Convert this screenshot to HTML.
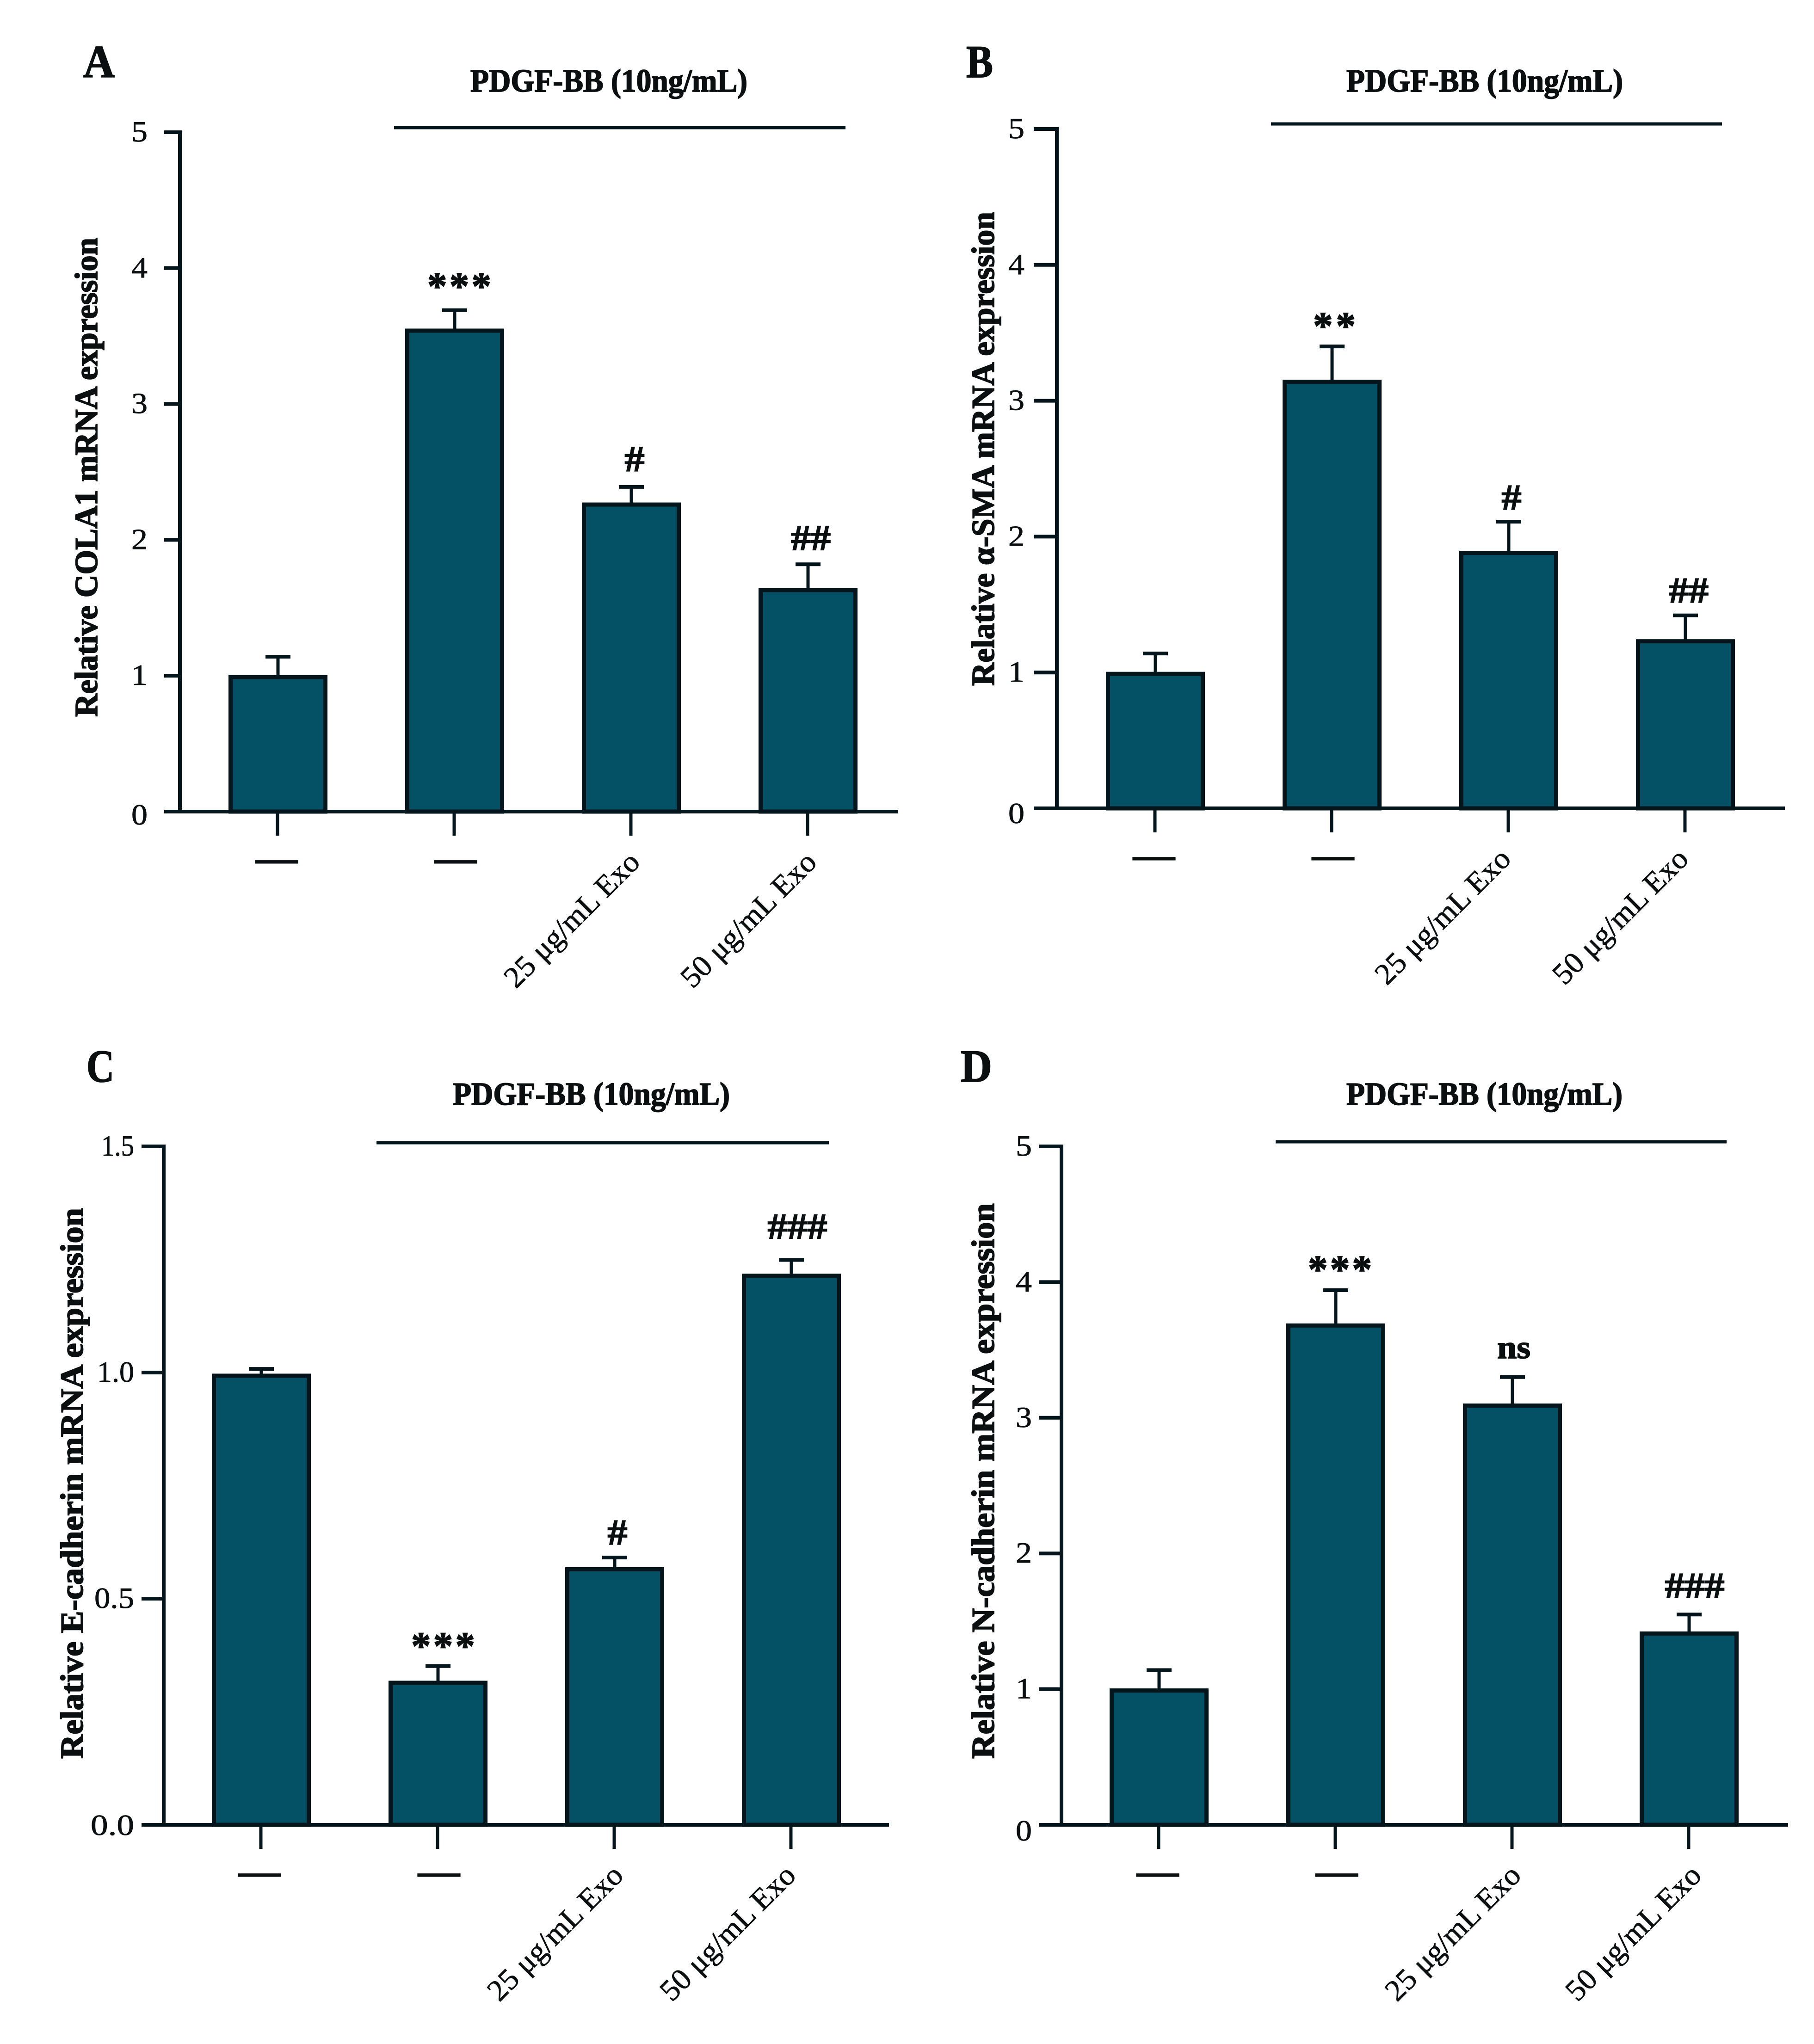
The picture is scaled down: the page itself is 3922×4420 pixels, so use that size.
<!DOCTYPE html>
<html lang="en">
<head>
<meta charset="utf-8">
<title>Relative mRNA expression panels</title>
<style>
html,body{margin:0;padding:0;background:#fff;}
svg{display:block;}
text{font-family:"Liberation Serif","DejaVu Serif",serif;fill:#0b0f10;stroke:#0b0f10;stroke-width:0.8px;}
text.heavy{stroke-width:1.8px;}
text.dash{stroke-width:1px;}
</style>
</head>
<body>
<svg id="figure" xmlns="http://www.w3.org/2000/svg" width="3922" height="4420" viewBox="0 0 3922 4420"></svg>
<script>
const categories = ['—', '—', '25 μg/mL Exo', '50 μg/mL Exo'];
const treatmentLabel = 'PDGF-BB (10ng/mL)';

const colaValues = [1, 3.55, 2.27, 1.64];
const colaErrors = [0.14, 0.14, 0.12, 0.18];
const colaMarks = ['', '***', '#', '##'];
const colaTicks = ['0', '1', '2', '3', '4', '5'];

const smaValues = [1, 3.15, 1.89, 1.24];
const smaErrors = [0.14, 0.25, 0.22, 0.18];
const smaMarks = ['', '**', '#', '##'];
const smaTicks = ['0', '1', '2', '3', '4', '5'];

const ecadValues = [0.996, 0.317, 0.568, 1.217];
const ecadErrors = [0.012, 0.034, 0.023, 0.032];
const ecadMarks = ['', '***', '#', '###'];
const ecadTicks = ['0.0', '0.5', '1.0', '1.5'];

const ncadValues = [1, 3.69, 3.1, 1.42];
const ncadErrors = [0.14, 0.25, 0.2, 0.13];
const ncadMarks = ['', '***', 'ns', '###'];
const ncadTicks = ['0', '1', '2', '3', '4', '5'];

const panels = [
  {id:'a', letter:'A', title:'Relative COLA1 mRNA expression', values:colaValues, errors:colaErrors, marks:colaMarks, ticks:colaTicks,
   layout:{axisX:389, base:1755, top:286, tickLeft:355, right:1942, labelRight:319, first:601, letterX:180, letterY:167, letterW:68,
     headX:1017, headW:599, headY:198, lineX1:852, lineX2:1828, lineY:276, titleX:210, titleY:1550, titleW:1036, zeroShift:28, tickWidths:[35,35,35,35,35,35],
     markDx:[0,10,7,6], markLift:[0,63,34,31], dashDx:[-3,2], labelDx:[22,22]}},
  {id:'b', letter:'B', title:'Relative α-SMA mRNA expression', values:smaValues, errors:smaErrors, marks:smaMarks, ticks:smaTicks,
   layout:{axisX:2285, base:1748, top:279, tickLeft:2235, right:3859, labelRight:2215, first:2498, letterX:2089, letterY:167, letterW:58,
     headX:2911, headW:598, headY:198, lineX1:2748, lineX2:3723, lineY:268, titleX:2149, titleY:1483, titleW:1025, zeroShift:32, tickWidths:[35,35,35,35,35,35],
     markDx:[0,5,6,7], markLift:[0,55,26,28], dashDx:[-3,2], labelDx:[8,10]}},
  {id:'c', letter:'C', title:'Relative E-cadherin mRNA expression', values:ecadValues, errors:ecadErrors, marks:ecadMarks, ticks:ecadTicks,
   layout:{axisX:354, base:3946, top:2479, tickLeft:306, right:1922, labelRight:290, first:565, letterX:187, letterY:2339, letterW:60,
     headX:979, headW:599, headY:2389, lineX1:814, lineX2:1792, lineY:2471, titleX:179, titleY:3803, titleW:1191, zeroShift:22, tickWidths:[94,86,80,71],
     markDx:[0,11,6,13], markLift:[0,54,28,46], dashDx:[-4,2], labelDx:[22,13]}},
  {id:'d', letter:'D', title:'Relative N-cadherin mRNA expression', values:ncadValues, errors:ncadErrors, marks:ncadMarks, ticks:ncadTicks,
   layout:{axisX:2295, base:3946, top:2479, tickLeft:2246, right:3866, labelRight:2231, first:2506, letterX:2077, letterY:2339, letterW:68,
     headX:2911, headW:597, headY:2389, lineX1:2758, lineX2:3733, lineY:2469, titleX:2149, titleY:3803, titleW:1201, zeroShift:34, tickWidths:[35,35,35,35,35,35],
     markDx:[0,9,3,12], markLift:[0,56,41,36], dashDx:[-3,2], labelDx:[22,30]}}
];

const SVG_NS = 'http://www.w3.org/2000/svg';
const INK = '#04161c';
const BAR_FILL = '#045166';
const STEP = 382;
const BAR_W = 205;
const figure = document.getElementById('figure');

function make(parent, tag, attrs, content) {
  const el = document.createElementNS(SVG_NS, tag);
  for (const key in attrs) el.setAttribute(key, attrs[key]);
  if (content !== undefined) el.textContent = content;
  parent.appendChild(el);
  return el;
}

function stroke(width) {
  return {stroke: INK, 'stroke-width': width, fill: 'none'};
}

function drawPanel(p) {
  const L = p.layout;
  const maxValue = parseFloat(p.ticks[p.ticks.length - 1]);
  const yScale = function (v) { return L.base - (L.base - L.top) * v / maxValue; };
  const xScale = function (i) { return L.first + i * STEP; };

  const g = make(figure, 'g', {});
  
  

  const letter = make(g, 'text', {class: 'heavy', x: L.letterX, y: L.letterY, 'font-size': 100, 'font-weight': 'bold', textLength: L.letterW, lengthAdjust: 'spacingAndGlyphs'}, p.letter);
  
  

  const head = make(g, 'text', {class: 'heavy', x: L.headX, y: L.headY, 'font-size': 70, 'font-weight': 'bold', textLength: L.headW, lengthAdjust: 'spacingAndGlyphs'}, treatmentLabel);
  
  

  const headLine = make(g, 'line', Object.assign({x1: L.lineX1, x2: L.lineX2, y1: L.lineY, y2: L.lineY}, stroke(7)));
  
  

  const title = make(g, 'text', {class: 'heavy', x: L.titleX, y: L.titleY, 'font-size': 70, 'font-weight': 'bold', textLength: L.titleW, lengthAdjust: 'spacingAndGlyphs', transform: 'rotate(-90 ' + L.titleX + ' ' + L.titleY + ')'}, p.title);
  
  

  const yAxis = make(g, 'line', Object.assign({x1: L.axisX, x2: L.axisX, y1: L.top - 4, y2: L.base + 4}, stroke(8)));
  
  

  p.ticks.forEach(function (label, k) {
    const v = parseFloat(label);
    const tick = make(g, 'line', Object.assign({x1: L.tickLeft, x2: L.axisX, y1: yScale(v), y2: yScale(v)}, stroke(8)));
    
    
    const txt = make(g, 'text', {x: L.labelRight, y: yScale(v) + (v === 0 ? L.zeroShift : 20), 'font-size': 63, 'text-anchor': 'end', textLength: L.tickWidths[k], lengthAdjust: 'spacingAndGlyphs'}, label);
    
    
  });

  p.values.forEach(function (value, i) {
    const cx = xScale(i);
    const errTop = yScale(value + p.errors[i]);

    const stem = make(g, 'line', Object.assign({x1: cx, x2: cx, y1: errTop, y2: yScale(value)}, stroke(7)));
    
    

    const cap = make(g, 'line', Object.assign({x1: cx - 27, x2: cx + 27, y1: errTop, y2: errTop}, stroke(8)));
    
    

    const bar = make(g, 'rect', {x: cx - BAR_W / 2, y: yScale(value) + 3, width: BAR_W, height: L.base - yScale(value) - 3, fill: BAR_FILL, stroke: INK, 'stroke-width': 9});
    
    

    const xTick = make(g, 'line', Object.assign({x1: cx - 1, x2: cx - 1, y1: L.base, y2: L.base + 52}, stroke(7)));
    
    

    if (i < 2) {
      const dash = make(g, 'text', {class: 'dash', x: cx + L.dashDx[i], y: L.base + 130, 'font-size': 91, 'font-weight': 'bold', 'text-anchor': 'middle'}, categories[i]);
      
      
    } else {
      const ex = cx + L.labelDx[i - 2];
      const ey = L.base + 113;
      const cat = make(g, 'text', {x: ex, y: ey, 'font-size': 65, 'text-anchor': 'end', textLength: 384, lengthAdjust: 'spacingAndGlyphs', transform: 'rotate(-45 ' + ex + ' ' + ey + ')'}, categories[i]);
      
      
    }

    const mark = p.marks[i];
    if (mark) {
      const isStar = mark[0] === '*';
      const isHash = mark[0] === '#';
      const size = isStar ? 85 : (isHash ? 78 : 70);
      const lift = L.markLift[i];
      const markY = isStar ? errTop - lift + 39 : errTop - lift;
      const attrs = {class: 'heavy', x: cx + L.markDx[i], y: markY, 'font-size': size, 'font-weight': 'bold', 'text-anchor': 'middle'};
      if (isStar) {
        attrs.textLength = mark.length * 46;
        attrs.lengthAdjust = 'spacing';
      } else {
        attrs.textLength = isHash ? mark.length * 43 : 72;
        attrs.lengthAdjust = 'spacingAndGlyphs';
      }
      const sig = make(g, 'text', attrs, mark);
      
      
    }
  });

  const xAxis = make(g, 'line', Object.assign({x1: L.tickLeft, x2: L.right, y1: L.base, y2: L.base}, stroke(8)));
  
  
}

panels.forEach(drawPanel);
</script>
</body>
</html>
